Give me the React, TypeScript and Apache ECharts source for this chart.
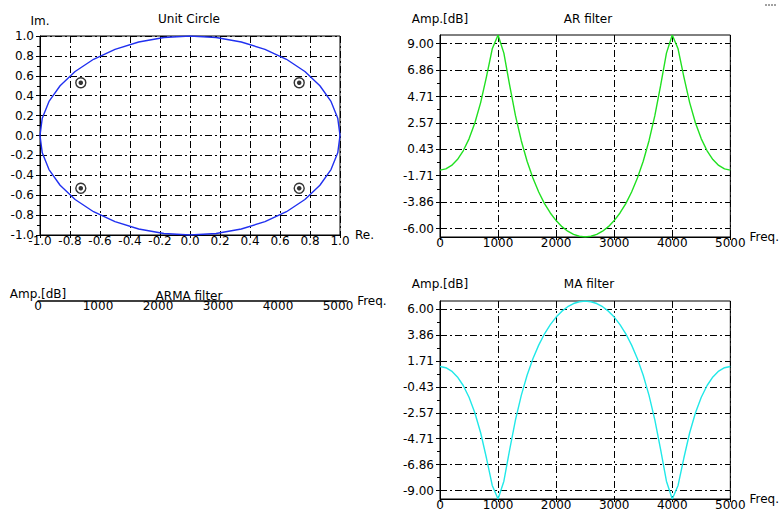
import React, { useEffect, useRef } from 'react';
import * as echarts from 'echarts';

// ---- data ----
const circleRe = [1, 0.985, 0.94, 0.866, 0.766, 0.643, 0.5, 0.342, 0.174, 0, -0.174, -0.342, -0.5, -0.643, -0.766, -0.866, -0.94, -0.985, -1, -0.985, -0.94, -0.866, -0.766, -0.643, -0.5, -0.342, -0.174, 0, 0.174, 0.342, 0.5, 0.643, 0.766, 0.866, 0.94, 0.985, 1];
const circleIm = [0, 0.174, 0.342, 0.5, 0.643, 0.766, 0.866, 0.94, 0.985, 1, 0.985, 0.94, 0.866, 0.766, 0.643, 0.5, 0.342, 0.174, 0, -0.174, -0.342, -0.5, -0.643, -0.766, -0.866, -0.94, -0.985, -1, -0.985, -0.94, -0.866, -0.766, -0.643, -0.5, -0.342, -0.174, 0];
const poleRe = [-0.728, 0.728, -0.728, 0.728];
const poleIm = [0.53, 0.53, -0.53, -0.53];

const freqs = [0, 100, 200, 300, 400, 500, 600, 700, 800, 900, 1000, 1100, 1200, 1300, 1400, 1500, 1600, 1700, 1800, 1900, 2000, 2100, 2200, 2300, 2400, 2500, 2600, 2700, 2800, 2900, 3000, 3100, 3200, 3300, 3400, 3500, 3600, 3700, 3800, 3900, 4000, 4100, 4200, 4300, 4400, 4500, 4600, 4700, 4800, 4900, 5000];
const arDb = [-1.26, -1.16, -0.88, -0.40, 0.31, 1.28, 2.56, 4.22, 6.31, 8.58, 9.70, 8.23, 5.61, 3.16, 1.13, -0.54, -1.90, -3.03, -3.97, -4.73, -5.35, -5.84, -6.21, -6.47, -6.62, -6.68, -6.62, -6.47, -6.21, -5.84, -5.35, -4.73, -3.97, -3.03, -1.90, -0.54, 1.13, 3.16, 5.61, 8.23, 9.70, 8.58, 6.31, 4.22, 2.56, 1.28, 0.31, -0.40, -0.88, -1.16, -1.26];
const maDb = [1.26, 1.16, 0.88, 0.40, -0.31, -1.28, -2.56, -4.22, -6.31, -8.58, -9.70, -8.23, -5.61, -3.16, -1.13, 0.54, 1.90, 3.03, 3.97, 4.73, 5.35, 5.84, 6.21, 6.47, 6.62, 6.68, 6.62, 6.47, 6.21, 5.84, 5.35, 4.73, 3.97, 3.03, 1.90, 0.54, -1.13, -3.16, -5.61, -8.23, -9.70, -8.58, -6.31, -4.22, -2.56, -1.28, -0.31, 0.40, 0.88, 1.16, 1.26];

const arTicks = [-6.0, -3.86, -1.71, 0.43, 2.57, 4.71, 6.86, 9.0];
const maTicks = [-9.0, -6.86, -4.71, -2.57, -0.43, 1.71, 3.86, 6.0];
const freqTicks = [0, 1000, 2000, 3000, 4000, 5000];

const FONT = 'DejaVu Sans';
const txt = { color: '#000', fontFamily: FONT, fontSize: 12 };
const gridLine = () => ({ show: true, lineStyle: { color: '#000', width: 1, type: [7, 3, 2, 3] } });
const axLine = () => ({ show: true, onZero: false, lineStyle: { color: '#000', width: 1 } });

const mids = (t: number[]) => t.slice(1).map((v, i) => (v + t[i]) / 2);
const fmt1 = (v: number) => (Math.abs(v) < 1e-9 ? 0 : v).toFixed(1);

export default function App() {
  const ref = useRef<HTMLDivElement>(null);
  useEffect(() => {
    if (!ref.current) return;
    const chart = echarts.init(ref.current, undefined, { renderer: 'svg' });
    const arMin = Math.min(...arDb), arMax = Math.max(...arDb);
    const maMin = Math.min(...maDb), maMax = Math.max(...maDb);

    const freqX = (gridIndex: number, nameGap: number, pad: number) => ({
      type: 'value', gridIndex, min: 0, max: 5000, interval: 1000,
      name: 'Freq.', nameLocation: 'end', nameGap,
      nameTextStyle: { ...txt, align: 'left', verticalAlign: 'middle', padding: [0, 0, pad, 0] },
      axisLine: axLine(),
      axisTick: { show: true, length: 3, lineStyle: { color: '#000' } },
      axisLabel: { ...txt, margin: 0, formatter: (v: number) => String(v) },
      splitLine: gridLine(),
    });
    const dbY = (gridIndex: number, ticks: number[], mn: number, mx: number, nameGap: number) => ([
      {
        type: 'value', gridIndex, min: mn, max: mx, position: 'left',
        name: 'Amp.[dB]', nameLocation: 'end', nameGap,
        nameTextStyle: { ...txt, align: 'center', verticalAlign: 'bottom' },
        axisLine: axLine(),
        axisTick: { show: true, length: 4, customValues: ticks, lineStyle: { color: '#000' } },
        axisLabel: { ...txt, margin: 6, customValues: ticks, formatter: (v: number) => v.toFixed(2) },
        splitLine: gridLine(),
      },
      {
        type: 'value', gridIndex, min: mn, max: mx, position: 'left',
        axisLine: { show: false },
        axisTick: { show: true, length: 3, customValues: mids(ticks), lineStyle: { color: '#000' } },
        axisLabel: { show: false },
        splitLine: { show: false },
      },
    ]);

    const option: any = {
      animation: false,
      backgroundColor: '#fff',
      grid: [
        { left: 40, top: 36, width: 300, height: 199, show: true, borderColor: '#000', borderWidth: 1 },
        { left: 440, top: 35, width: 301, height: 202, show: true, borderColor: '#000', borderWidth: 1 },
        { left: 38, top: 296, width: 309, height: 5, show: false },
        { left: 440, top: 301, width: 301, height: 198, show: true, borderColor: '#000', borderWidth: 1 },
      ],
      xAxis: [
        {
          type: 'value', gridIndex: 0, min: -1, max: 1, interval: 0.2,
          name: 'Re.', nameLocation: 'end', nameGap: 15,
          nameTextStyle: { ...txt, align: 'left', verticalAlign: 'middle', padding: [0, 0, 4, 0] },
          axisLine: axLine(),
          axisTick: { show: true, length: 3, lineStyle: { color: '#000' } },
          axisLabel: { ...txt, margin: 0, formatter: fmt1 },
          splitLine: gridLine(),
        },
        freqX(1, 9, 8),
        {
          type: 'value', gridIndex: 2, min: 0, max: 5150, position: 'bottom',
          name: 'Freq.', nameLocation: 'end', nameGap: 1,
          nameTextStyle: { ...txt, align: 'left', verticalAlign: 'middle', padding: [0, 0, 10, 0] },
          axisLine: { show: true, onZero: false, lineStyle: { color: '#000', width: 1.5 } },
          axisTick: { show: false },
          axisLabel: { ...txt, margin: -1, customValues: freqTicks, formatter: (v: number) => String(v) },
          splitLine: { show: false },
        },
        freqX(3, 9, 2),
      ],
      yAxis: [
        {
          type: 'value', gridIndex: 0, min: -1, max: 1, interval: 0.2,
          name: 'Im.', nameLocation: 'end', nameGap: 9,
          nameTextStyle: { ...txt, align: 'center', verticalAlign: 'bottom' },
          axisLine: axLine(),
          axisTick: { show: true, length: 4, lineStyle: { color: '#000' } },
          minorTick: { show: true, splitNumber: 2, length: 3, lineStyle: { color: '#000' } },
          axisLabel: { ...txt, margin: 6, formatter: fmt1 },
          splitLine: gridLine(),
        },
        ...dbY(1, arTicks, arMin, arMax, 10),
        {
          type: 'value', gridIndex: 2, min: 0, max: 1,
          name: 'Amp.[dB]', nameLocation: 'end', nameGap: -6,
          nameTextStyle: { ...txt, align: 'center', verticalAlign: 'bottom' },
          axisLine: { show: false }, axisTick: { show: false }, axisLabel: { show: false }, splitLine: { show: false },
        },
        ...dbY(3, maTicks, maMin, maMax, 11),
      ],
      graphic: [
        { type: 'text', x: 189, y: 19, style: { text: 'Unit Circle', fill: '#000', font: `12px "${FONT}"`, textAlign: 'center', textVerticalAlign: 'middle' } },
        { type: 'text', x: 588, y: 19, style: { text: 'AR filter', fill: '#000', font: `12px "${FONT}"`, textAlign: 'center', textVerticalAlign: 'middle' } },
        { type: 'text', x: 189, y: 296, style: { text: 'ARMA filter', fill: '#000', font: `12px "${FONT}"`, textAlign: 'center', textVerticalAlign: 'middle' } },
        { type: 'text', x: 589, y: 284, style: { text: 'MA filter', fill: '#000', font: `12px "${FONT}"`, textAlign: 'center', textVerticalAlign: 'middle' } },
        { type: 'line', shape: { x1: 765, y1: 5, x2: 777, y2: 5 }, style: { stroke: '#444', lineWidth: 1, lineDash: [2, 1] } },
      ],
      series: [
        {
          type: 'line', xAxisIndex: 0, yAxisIndex: 0, showSymbol: false,
          data: circleRe.map((x, i) => [x, circleIm[i]]),
          lineStyle: { color: '#2030f0', width: 1.4 },
        },
        {
          type: 'scatter', xAxisIndex: 0, yAxisIndex: 0, symbol: 'circle', symbolSize: 10,
          data: poleRe.map((x, i) => [x, poleIm[i]]),
          itemStyle: { color: '#fff', borderColor: '#000', borderWidth: 1.4 },
        },
        {
          type: 'scatter', xAxisIndex: 0, yAxisIndex: 0, symbol: 'circle', symbolSize: 4.5,
          data: poleRe.map((x, i) => [x, poleIm[i]]),
          itemStyle: { color: '#000' },
        },
        {
          type: 'line', xAxisIndex: 1, yAxisIndex: 1, showSymbol: false,
          data: freqs.map((f, i) => [f, arDb[i]]),
          lineStyle: { color: '#20e020', width: 1.4 },
        },
        {
          type: 'line', xAxisIndex: 3, yAxisIndex: 4, showSymbol: false,
          data: freqs.map((f, i) => [f, maDb[i]]),
          lineStyle: { color: '#20e8e8', width: 1.4 },
        },
      ],
    };
    chart.setOption(option);
    return () => chart.dispose();
  }, []);
  return <div ref={ref} style={{ position: 'fixed', left: 0, top: 0, width: 780, height: 519, background: '#fff' }} />;
}
